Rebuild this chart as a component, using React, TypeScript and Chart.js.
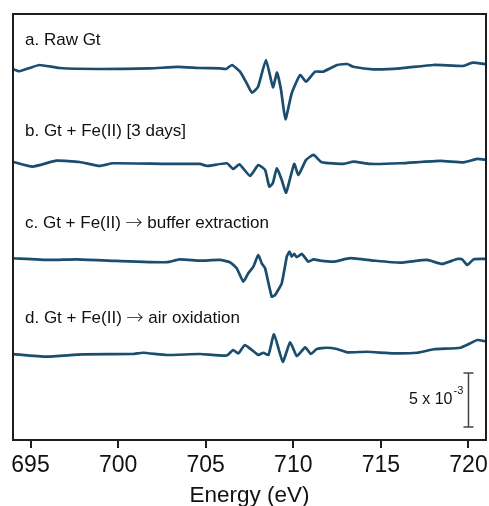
import React, { useEffect, useRef } from "react";
import { Chart, registerables } from "chart.js";

Chart.register(...registerables);

// Energy axis
const xMin = 694;
const xMax = 721;
const xTicks = [695, 700, 705, 710, 715, 720];

// Vertical offsets (in units of 1e-3) for the four stacked spectra
const offsets = [34.35, 25.65, 16.67, 7.96];
const labels = [
  "a. Raw Gt",
  "b. Gt + Fe(II) [3 days]",
  "c. Gt + Fe(II) \u2192 buffer extraction",
  "d. Gt + Fe(II) \u2192 air oxidation",
];

// a. Raw Gt
const aE = [693.97, 694.37, 694.94, 695.51, 696.66, 698.95, 701.81, 703.41, 704.67, 705.81, 706.16, 706.5, 706.96, 707.3, 707.64, 707.99, 708.44, 708.84, 709.07, 709.3, 709.55, 709.91, 710.39, 710.73, 711.25, 711.7, 712.51, 713.08, 713.42, 714.57, 716.11, 718.0, 719.71, 720.23, 721.03];
const aV = [0, -0.21, 0.09, 0.37, 0.09, 0, 0.05, 0.19, 0.09, 0.05, 0, 0.37, -0.25, -1.2, -2.19, -1.64, 0.83, -1.69, -0.34, -1.94, -4.66, -2.25, -0.56, -1.18, -0.25, -0.25, 0.37, 0.46, 0.21, -0.03, 0.06, 0.37, 0.28, 0.58, 0.44];

// b. Gt + Fe(II) [3 days]
const bE = [693.97, 695.11, 696.49, 697.8, 698.95, 699.69, 702.78, 704.67, 705.07, 706.21, 706.57, 706.92, 707.53, 708.0, 708.39, 708.63, 708.83, 709.06, 709.34, 709.59, 710.05, 710.29, 710.73, 711.15, 711.63, 712.87, 713.44, 714.39, 716.11, 718.4, 719.73, 720.5, 721.03];
const bV = [0.12, -0.34, 0.21, 0.09, -0.28, -0.03, -0.09, -0.09, -0.28, -0.03, -0.56, -0.12, -1.2, -0.19, -0.65, -2.19, -1.88, -0.49, -1.57, -2.75, -0.09, -1.11, 0.28, 0.74, 0.06, -0.09, 0.12, -0.09, -0.03, 0.19, 0.06, 0.37, 0.28];

// c. Gt + Fe(II) -> buffer extraction
const cE = [693.97, 696.09, 697.63, 699.92, 702.78, 703.52, 704.67, 705.81, 706.38, 706.77, 707.15, 707.43, 707.72, 708.0, 708.2, 708.39, 708.77, 708.96, 709.34, 709.63, 709.78, 709.91, 710.05, 710.2, 710.49, 710.86, 711.15, 711.53, 712.29, 713.25, 714.58, 716.11, 717.64, 718.5, 719.35, 719.64, 719.93, 720.3, 721.07];
const cV = [0.16, 0, 0.06, -0.09, -0.21, 0.06, -0.06, 0, -0.21, -0.77, -2.01, -1.23, -0.62, 0.46, -0.31, -0.77, -3.4, -3.24, -2.16, 0.31, 0.77, 0.31, 0.56, 0.25, 0.56, -0.16, 0.06, -0.06, -0.16, 0.16, -0.06, -0.25, 0, -0.37, 0.09, 0.06, -0.46, 0.06, 0.09];

// d. Gt + Fe(II) -> air oxidation
const dE = [693.97, 695.9, 697.97, 700.84, 701.41, 702.78, 704.67, 706.2, 706.57, 706.86, 707.24, 708.0, 708.29, 708.58, 708.9, 709.4, 709.82, 710.2, 710.68, 711.0, 711.34, 711.92, 712.49, 713.06, 714.2, 715.73, 717.07, 718.02, 719.54, 720.11, 720.5, 721.07];
const dV = [0, -0.25, -0.03, 0, 0.12, -0.09, 0, -0.14, 0.37, 0.06, 0.83, -0.09, 0.12, -0.09, 1.82, -0.71, 1.08, -0.19, 0.62, 0, 0.46, 0.58, 0.46, 0.16, 0.21, 0.06, 0.12, 0.44, 0.58, 0.99, 1.3, 1.14];

// Scale bar: 5 x 10^-3 at E = 720 eV
const scaleBarE = 720;
const scaleBarFrom = 1.2;
const scaleBarTo = 6.2;

const yMin = 0;
const yMax = 39.44;

const LINE_COLOR = "#1b4d6e";
const AXIS_COLOR = "#1e1e1e";
const FONT = "'Liberation Sans', Arial, sans-serif";
const ARROW_FONT = "'Noto Sans CJK SC', 'DejaVu Sans', sans-serif";
// label middle lift above each trace baseline (px)
const LABEL_LIFT = [29, 32, 37, 36];

const seriesE = [aE, bE, cE, dE];
const seriesV = [aV, bV, cV, dV];

function drawMixed(ctx: CanvasRenderingContext2D, text: string, x: number, y: number) {
  const parts = text.split("\u2192");
  let cx = x;
  parts.forEach((p, i) => {
    ctx.font = `17px ${FONT}`;
    ctx.fillText(p, cx, y);
    cx += ctx.measureText(p).width;
    if (i < parts.length - 1) {
      ctx.font = `300 17px ${ARROW_FONT}`;
      ctx.fillText("\u2192", cx, y);
      cx += ctx.measureText("\u2192").width;
    }
  });
}

const overlayPlugin = {
  id: "overlay",
  afterDraw(chart: any) {
    const { ctx, chartArea, scales } = chart;
    const ys = scales.y;
    const xs = scales.x;
    ctx.save();
    // frame
    ctx.strokeStyle = AXIS_COLOR;
    ctx.lineWidth = 2;
    ctx.strokeRect(chartArea.left, chartArea.top, chartArea.right - chartArea.left, chartArea.bottom - chartArea.top);
    // panel labels
    ctx.fillStyle = "#111";
    ctx.textBaseline = "middle";
    ctx.textAlign = "left";
    labels.forEach((t, i) => {
      const py = ys.getPixelForValue(offsets[i]) - LABEL_LIFT[i];
      drawMixed(ctx, t, chartArea.left + 12, py);
    });
    // scale bar
    const bx = xs.getPixelForValue(scaleBarE);
    const y1 = ys.getPixelForValue(scaleBarTo);
    const y2 = ys.getPixelForValue(scaleBarFrom);
    ctx.strokeStyle = "#444";
    ctx.lineWidth = 1.5;
    ctx.beginPath();
    ctx.moveTo(bx, y1);
    ctx.lineTo(bx, y2);
    ctx.moveTo(bx - 5, y1);
    ctx.lineTo(bx + 5, y1);
    ctx.moveTo(bx - 5, y2);
    ctx.lineTo(bx + 5, y2);
    ctx.stroke();
    const ym = (y1 + y2) / 2;
    ctx.fillStyle = "#111";
    ctx.font = `16px ${FONT}`;
    ctx.textAlign = "right";
    ctx.textBaseline = "middle";
    ctx.fillText("5 x 10", bx - 16, ym);
    ctx.font = `11px ${FONT}`;
    ctx.textAlign = "left";
    ctx.fillText("-3", bx - 15, ym - 9);
    ctx.restore();
  },
};

export default function App() {
  const ref = useRef<HTMLCanvasElement | null>(null);
  useEffect(() => {
    if (!ref.current) return;
    const datasets = seriesE.map((es, i) => ({
      data: es.map((e, j) => ({ x: e, y: offsets[i] + seriesV[i][j] })),
      borderColor: LINE_COLOR,
      borderWidth: 2.7,
      pointRadius: 0,
      tension: 0.15,
      fill: false,
    }));
    const chart = new Chart(ref.current, {
      type: "line",
      data: { datasets },
      plugins: [overlayPlugin],
      options: {
        animation: false,
        responsive: false,
        maintainAspectRatio: false,
        layout: { padding: { left: 13, right: 3, top: 14, bottom: 0 } },
        plugins: { legend: { display: false }, tooltip: { enabled: false } },
        scales: {
          x: {
            type: "linear",
            min: xMin,
            max: xMax,
            afterBuildTicks: (scale: any) => {
              scale.ticks = xTicks.map((v) => ({ value: v }));
            },
            afterFit: (scale: any) => {
              scale.height = 66;
              scale.paddingLeft = 0;
              scale.paddingRight = 0;
            },
            grid: {
              display: true,
              drawOnChartArea: false,
              drawTicks: true,
              tickLength: 8,
              lineWidth: 2,
              color: AXIS_COLOR,
            },
            border: { display: false },
            ticks: {
              color: "#111",
              font: { family: FONT, size: 23 },
              padding: 4,
              maxRotation: 0,
              autoSkip: false,
            },
            title: {
              display: true,
              text: "Energy (eV)",
              color: "#111",
              font: { family: FONT, size: 22.5, lineHeight: 1 },
              padding: { top: 0, bottom: -1 },
            },
          },
          y: {
            type: "linear",
            display: false,
            min: yMin,
            max: yMax,
          },
        },
      },
    });
    return () => chart.destroy();
  }, []);
  return (
    <div style={{ position: "fixed", left: 0, top: 0, width: 489, height: 506, background: "#fff" }}>
      <canvas ref={ref} width={489} height={506} style={{ width: 489, height: 506, display: "block" }} />
    </div>
  );
}
